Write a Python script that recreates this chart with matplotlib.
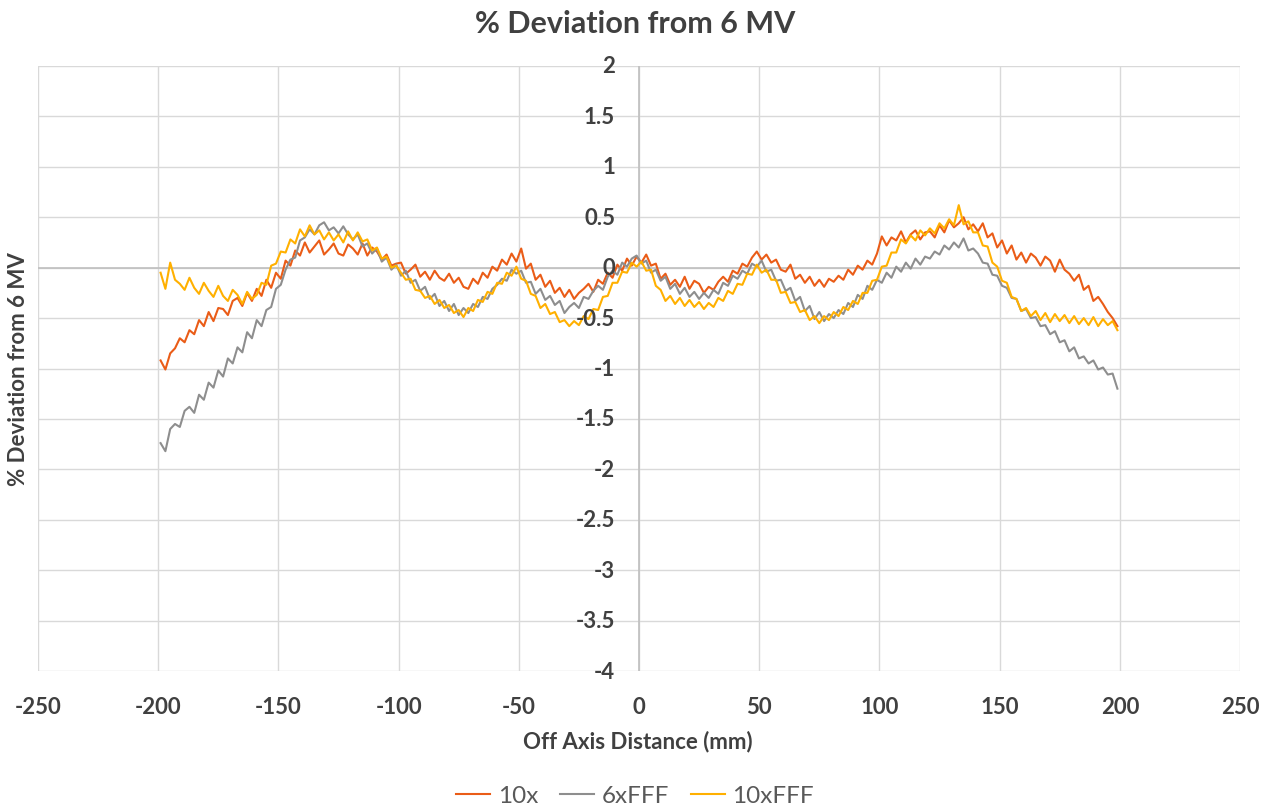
import numpy as np
import matplotlib
matplotlib.use("Agg")
import matplotlib.pyplot as plt
import matplotlib.transforms as mtransforms

plt.rcParams['font.family'] = ['Lato', 'DejaVu Sans']

# Off-axis positions (mm), sampled every 2 mm
offsets = np.arange(-199, 200, 2)

dev_10x = [
    -0.92, -1.01, -0.85, -0.80, -0.70, -0.74, -0.62, -0.66, -0.52, -0.58,
    -0.44, -0.53, -0.40, -0.41, -0.47, -0.33, -0.30, -0.38, -0.25, -0.33,
    -0.21, -0.28, -0.12, -0.20, -0.05, -0.11, 0.07, 0.02, 0.17, 0.12,
    0.25, 0.15, 0.21, 0.27, 0.13, 0.18, 0.24, 0.14, 0.12, 0.23,
    0.19, 0.13, 0.24, 0.12, 0.20, 0.16, 0.08, 0.13, 0.02, 0.04,
    0.05, -0.06, -0.02, 0.03, -0.09, -0.04, -0.12, -0.03, -0.10, -0.13,
    -0.06, -0.15, -0.10, -0.19, -0.21, -0.11, -0.16, -0.05, -0.10, 0.01,
    -0.03, 0.08, 0.03, 0.14, 0.06, 0.19, -0.01, 0.04, -0.12, -0.07,
    -0.19, -0.13, -0.25, -0.20, -0.29, -0.22, -0.31, -0.25, -0.21, -0.16,
    -0.24, -0.12, -0.16, -0.05, -0.10, 0.03, -0.03, 0.09, 0.02, 0.11,
    0.05, 0.13, 0.02, 0.04, -0.11, -0.06, -0.17, -0.12, -0.19, -0.09,
    -0.21, -0.13, -0.16, -0.25, -0.19, -0.22, -0.14, -0.09, -0.14, -0.03,
    -0.06, 0.04, 0.01, 0.10, 0.16, 0.08, 0.13, 0.05, 0.08, -0.02,
    -0.04, 0.03, -0.11, -0.07, -0.15, -0.09, -0.18, -0.12, -0.19, -0.11,
    -0.14, -0.08, -0.12, -0.02, -0.07, 0.02, -0.02, 0.07, 0.03, 0.14,
    0.31, 0.22, 0.30, 0.27, 0.36, 0.25, 0.33, 0.37, 0.28, 0.35,
    0.36, 0.30, 0.42, 0.35, 0.47, 0.40, 0.44, 0.50, 0.38, 0.43,
    0.36, 0.44, 0.30, 0.34, 0.20, 0.27, 0.14, 0.22, 0.08, 0.15,
    0.05, 0.14, 0.10, 0.02, 0.11, 0.07, -0.04, 0.08, -0.02, -0.06,
    -0.13, -0.07, -0.22, -0.18, -0.33, -0.29, -0.36, -0.44, -0.50, -0.58,
]

dev_6xfff = [
    -1.74, -1.82, -1.60, -1.55, -1.58, -1.42, -1.38, -1.44, -1.26, -1.31,
    -1.14, -1.19, -1.02, -1.08, -0.90, -0.95, -0.79, -0.84, -0.64, -0.70,
    -0.52, -0.58, -0.42, -0.39, -0.21, -0.17, -0.02, 0.08, 0.10, 0.27,
    0.30, 0.38, 0.33, 0.42, 0.45, 0.37, 0.40, 0.34, 0.41, 0.33,
    0.28, 0.33, 0.21, 0.24, 0.14, 0.19, 0.06, 0.10, -0.02, 0.03,
    -0.08, -0.03, -0.15, -0.12, -0.23, -0.19, -0.31, -0.26, -0.38, -0.33,
    -0.43, -0.36, -0.47, -0.40, -0.45, -0.36, -0.39, -0.29, -0.31, -0.21,
    -0.17, -0.11, -0.13, -0.02, -0.06, -0.03, -0.15, -0.14, -0.26, -0.21,
    -0.32, -0.28, -0.37, -0.33, -0.45, -0.39, -0.35, -0.40, -0.29, -0.31,
    -0.23, -0.18, -0.22, -0.09, -0.03, -0.07, 0.05, 0.01, 0.09, 0.12,
    0.04, 0.07, -0.05, -0.02, -0.13, -0.09, -0.21, -0.16, -0.26, -0.20,
    -0.29, -0.24, -0.31, -0.25, -0.30, -0.22, -0.26, -0.15, -0.18, -0.08,
    -0.11, -0.03, -0.06, 0.04, 0.01, 0.07, -0.04, -0.02, -0.13, -0.12,
    -0.23, -0.20, -0.33, -0.29, -0.43, -0.38, -0.51, -0.44, -0.53, -0.46,
    -0.50, -0.42, -0.46, -0.35, -0.39, -0.27, -0.31, -0.18, -0.22, -0.12,
    -0.15, -0.05, -0.10, 0.01, -0.04, 0.05, -0.01, 0.09, 0.03, 0.11,
    0.09, 0.16, 0.13, 0.22, 0.18, 0.25, 0.20, 0.29, 0.17, 0.19,
    0.14, 0.05, 0.04, -0.07, -0.08, -0.18, -0.20, -0.30, -0.31, -0.43,
    -0.41, -0.50, -0.49, -0.58, -0.57, -0.66, -0.63, -0.74, -0.72, -0.83,
    -0.79, -0.90, -0.88, -0.95, -0.92, -1.01, -0.99, -1.06, -1.05, -1.20,
]

dev_10xfff = [
    -0.05, -0.21, 0.05, -0.12, -0.16, -0.22, -0.10, -0.20, -0.26, -0.15,
    -0.23, -0.29, -0.18, -0.28, -0.33, -0.22, -0.27, -0.36, -0.24, -0.31,
    -0.27, -0.15, -0.17, 0.02, 0.04, 0.16, 0.15, 0.28, 0.24, 0.38,
    0.31, 0.42, 0.33, 0.37, 0.28, 0.35, 0.27, 0.33, 0.25, 0.36,
    0.27, 0.35, 0.26, 0.28, 0.17, 0.20, 0.09, 0.11, 0.00, 0.02,
    -0.05, -0.12, -0.11, -0.22, -0.23, -0.30, -0.28, -0.36, -0.32, -0.40,
    -0.37, -0.45, -0.42, -0.49, -0.40, -0.43, -0.32, -0.34, -0.24, -0.26,
    -0.15, -0.16, -0.05, -0.08, 0.01, -0.11, -0.13, -0.26, -0.28, -0.40,
    -0.36, -0.46, -0.44, -0.54, -0.52, -0.58, -0.53, -0.57, -0.48, -0.51,
    -0.41, -0.42, -0.29, -0.28, -0.15, -0.15, -0.04, -0.05, 0.05, 0.01,
    0.06, -0.03, -0.02, -0.18, -0.22, -0.33, -0.28, -0.36, -0.30, -0.38,
    -0.32, -0.39, -0.34, -0.41, -0.35, -0.39, -0.30, -0.33, -0.23, -0.26,
    -0.16, -0.17, -0.06, -0.07, 0.03, -0.05, -0.02, -0.12, -0.12, -0.25,
    -0.24, -0.35, -0.34, -0.44, -0.42, -0.52, -0.48, -0.55, -0.48, -0.52,
    -0.44, -0.48, -0.39, -0.42, -0.33, -0.36, -0.25, -0.25, -0.13, -0.12,
    0.01, 0.02, 0.15, 0.15, 0.28, 0.24, 0.32, 0.27, 0.37, 0.32,
    0.39, 0.34, 0.44, 0.39, 0.48, 0.42, 0.62, 0.43, 0.46, 0.35,
    0.35, 0.22, 0.21, 0.05, 0.01, -0.13, -0.15, -0.29, -0.31, -0.43,
    -0.40, -0.48, -0.43, -0.52, -0.45, -0.54, -0.46, -0.53, -0.47, -0.55,
    -0.48, -0.56, -0.50, -0.57, -0.49, -0.58, -0.51, -0.57, -0.53, -0.62,
]

series_names = ["10x", "6xFFF", "10xFFF"]
series_colors = ["#EA5C17", "#8E8E8E", "#FFB000"]

x_ticks = [-250, -200, -150, -100, -50, 0, 50, 100, 150, 200, 250]
y_ticks = [2, 1.5, 1, 0.5, 0, -0.5, -1, -1.5, -2, -2.5, -3, -3.5, -4]
y_tick_labels = ["2", "1.5", "1", "0.5", "0", "-0.5", "-1", "-1.5", "-2",
                 "-2.5", "-3", "-3.5", "-4"]

title = "% Deviation from 6 MV"
x_label = "Off Axis Distance (mm)"
y_label = "% Deviation from 6 MV"

text_col = "#404040"

fig = plt.figure(figsize=(12.7, 8.12), dpi=100)
ax = fig.add_axes([0.0299, 0.1724, 0.9465, 0.7451])

for vals, name, col in zip([dev_10x, dev_6xfff, dev_10xfff], series_names, series_colors):
    ax.plot(offsets, vals, color=col, lw=1.5, label=name, zorder=3)

ax.set_xlim(-250, 250)
ax.set_ylim(-4, 2)
ax.set_xticks(x_ticks)
ax.set_yticks(y_ticks)
ax.set_xticklabels([str(v) for v in x_ticks])
ax.set_yticklabels([])
ax.grid(True, color="#D9D9D9", lw=1.0)
ax.set_axisbelow(True)
ax.tick_params(axis="both", length=0)
ax.tick_params(axis="x", pad=18, labelsize=16, labelcolor=text_col)
for lab in ax.get_xticklabels():
    lab.set_fontweight("bold")
for sp in ax.spines.values():
    sp.set_visible(False)

# axis lines through origin
ax.axhline(0, color="#BFBFBF", lw=1.2, zorder=1)
ax.axvline(0, color="#BFBFBF", lw=1.2, zorder=1)

# y tick labels next to the vertical axis at x = 0
offset = mtransforms.ScaledTranslation(-24 / 100, 0, fig.dpi_scale_trans)
for yv, lab in zip(y_ticks, y_tick_labels):
    ax.text(0, yv, lab, transform=ax.transData + offset, ha="right", va="center",
            fontsize=16, fontweight="bold", color=text_col, zorder=5)

fig.text(0.5, 0.970, title, ha="center", va="center", fontsize=22,
         fontweight="bold", color=text_col)
fig.text(0.502, 0.087, x_label, ha="center", va="center", fontsize=16,
         fontweight="bold", color=text_col)
fig.text(0.0145, 0.545, y_label, ha="center", va="center", rotation=90,
         fontsize=16, fontweight="bold", color=text_col)

leg = fig.legend(loc="center", bbox_to_anchor=(0.5, 0.019), ncol=3, frameon=False,
                 fontsize=17.5, handlelength=1.4, handletextpad=0.3, columnspacing=0.9)
for t in leg.get_texts():
    t.set_color("#595959")

fig.savefig("out.png", dpi=100)
